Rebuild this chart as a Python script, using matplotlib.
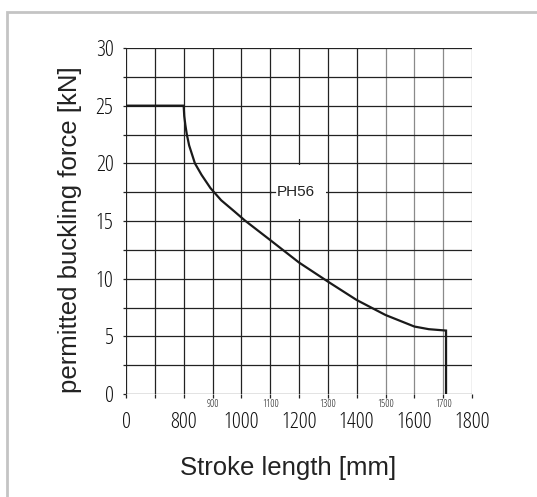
import numpy as np
import matplotlib
matplotlib.use("Agg")
import matplotlib.pyplot as plt
from matplotlib.patches import Rectangle

# curve PH56
stroke_mm = [0, 800, 802, 806, 811, 819, 839, 862, 893, 930, 975, 1012, 1100, 1200, 1300,
             1400, 1500, 1600, 1650, 1710, 1710]
force_kn = [25, 25, 24.1, 23.3, 22.5, 21.55, 20.0, 19.0, 17.85, 16.8, 15.85, 15.05, 13.35, 11.4, 9.75,
            8.15, 6.85, 5.85, 5.62, 5.5, 0]

major_x = [0, 800, 1000, 1200, 1400, 1600, 1800]
minor_x_labels = [900, 1100, 1300, 1500, 1700]
grid_x = [0, 400, 800, 900, 1000, 1100, 1200, 1300, 1400, 1500, 1600, 1700, 1800]
major_y = [0, 5, 10, 15, 20, 25, 30]
grid_y = [0, 2.5, 5, 7.5, 10, 12.5, 15, 17.5, 20, 22.5, 25, 27.5, 30]

narrow = dict(family=["Open Sans", "DejaVu Sans"], stretch="condensed")
plain = ["Liberation Sans", "DejaVu Sans"]


# broken x scale: first two cells hold 0-800, then 100 mm per cell
def fwd(x):
    x = np.asarray(x, dtype=float)
    return np.where(x <= 800, x / 400.0, 2 + (x - 800) / 100.0)


def inv(u):
    u = np.asarray(u, dtype=float)
    return np.where(u <= 2, u * 400.0, 800 + (u - 2) * 100.0)


fig = plt.figure(figsize=(5.37, 4.97), dpi=100)
ax = fig.add_axes([126 / 537, 103 / 497, 346 / 537, 346 / 497])
ax.set_xscale("function", functions=(fwd, inv))
ax.set_xlim(0, 1800)
ax.set_ylim(0, 30)

for x in grid_x:
    col = "#8a8a8a" if x >= 1500 else "#222222"
    ax.axvline(x, color=col, lw=0.9, zorder=1)
for y in grid_y:
    ax.axhline(y, color="#222222", lw=0.9, zorder=1)

# white patch behind the label
ax.add_patch(Rectangle((1105, 15.15), 190, 4.7, facecolor="white", edgecolor="none", zorder=2))
ax.plot([1100, 1118], [17.5, 17.5], color="#222222", lw=0.9, zorder=3)
ax.text(1122, 17.5, "PH56", fontsize=11, family=plain, color="#222222",
        ha="left", va="center", zorder=4)

ax.plot(stroke_mm, force_kn, color="#1a1a1a", lw=1.6, zorder=5, solid_joinstyle="miter")

for s in ax.spines.values():
    s.set_visible(False)

ax.set_xticks(major_x)
ax.set_xticklabels([str(v) for v in major_x], fontsize=16, color="#111111", **narrow)
ax.set_xticks([400] + minor_x_labels, minor=True)
ax.set_xticklabels([""] + [str(v) for v in minor_x_labels], minor=True, fontsize=7.5,
                   color="#111111", **narrow)
ax.tick_params(axis="x", which="major", length=3, width=0.9, color="#222222", pad=10)
ax.tick_params(axis="x", which="minor", length=3, width=0.9, color="#222222", pad=0.5)

ax.set_yticks(major_y)
ax.set_yticklabels([str(v) for v in major_y], fontsize=16, color="#111111", **narrow)
ax.set_yticks([v for v in grid_y if v not in major_y], minor=True)
ax.tick_params(axis="y", which="both", length=2, width=0.9, color="#222222", pad=7)

fig.text(70 / 537, 1 - 230 / 497, "permitted buckling force [kN]", rotation=90,
         ha="center", va="center", fontsize=18.5, family=plain, color="#222222")
fig.text(288 / 537, 1 - 468 / 497, "Stroke length [mm]",
         ha="center", va="center", fontsize=18.5, family=plain, color="#222222")

# light grey frame, open to the right and bottom
fig.patches.append(Rectangle((7 / 537, -0.1), 1.2, 1.1 - 12 / 497, transform=fig.transFigure,
                             fill=False, edgecolor="#c4c4c4", lw=2))

fig.savefig("out.png", dpi=100)
